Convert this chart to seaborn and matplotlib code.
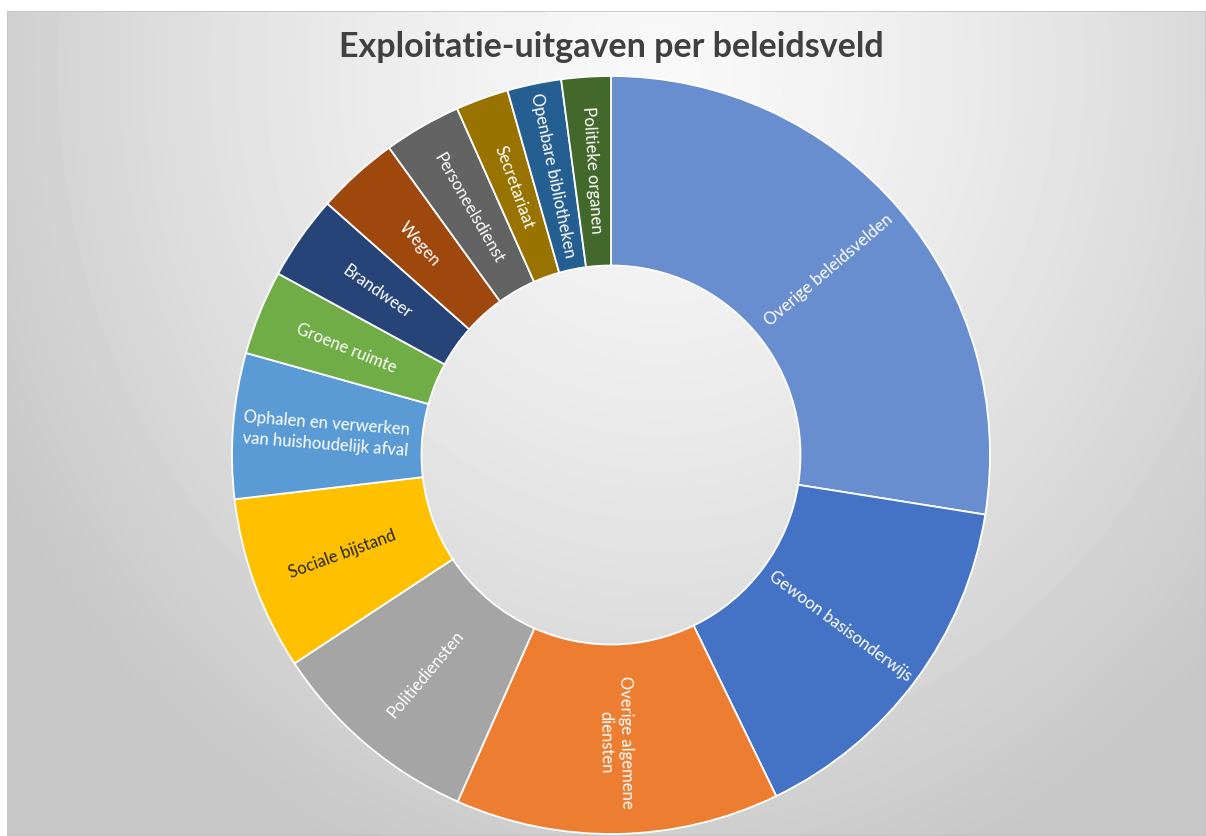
import numpy as np
import matplotlib
matplotlib.use("Agg")
import matplotlib.pyplot as plt
from matplotlib.patches import Rectangle
import seaborn as sns

# ---------------- data ----------------
title = "Exploitatie-uitgaven per beleidsveld"
categories = [
    "Overige beleidsvelden",
    "Gewoon basisonderwijs",
    "Overige algemene\ndiensten",
    "Politiediensten",
    "Sociale bijstand",
    "Ophalen en verwerken\nvan huishoudelijk afval",
    "Groene ruimte",
    "Brandweer",
    "Wegen",
    "Personeelsdienst",
    "Secretariaat",
    "Openbare bibliotheken",
    "Politieke organen",
]
shares = [27.5, 15.3, 13.8, 9.1, 7.4, 6.2, 3.6, 3.6, 3.5, 3.3, 2.25, 2.3, 2.1]
colors = ["#698ED0", "#4472C4", "#ED7D31", "#A5A5A5", "#FFC000", "#5B9BD5",
          "#70AD47", "#264478", "#9E480E", "#636363", "#997300", "#255E91",
          "#43682B"]
label_colors = ["white", "white", "white", "white", "#262626", "white",
                "white", "white", "white", "white", "white", "white", "white"]

# ---------------- style ----------------
sns.set_theme(style="white")
plt.rcParams['font.family'] = ['Lato', 'DejaVu Sans']
palette = sns.color_palette(colors)

W_PX, H_PX = 1206, 837
fig = plt.figure(figsize=(W_PX / 100, H_PX / 100), dpi=100)
fig.patch.set_facecolor("white")

# background gradient (chart area)
left_px, top_px = 7, 12
bw, bh = W_PX - left_px, H_PX - top_px
bg = fig.add_axes([left_px / W_PX, 0, bw / W_PX, bh / H_PX])
yy, xx = np.mgrid[0:bh, 0:bw]
cx, cy = 660 - left_px, 70 - top_px
d = np.sqrt(((xx - cx) / 720.0) ** 2 + ((yy - cy) / 820.0) ** 2)
shade = 0.972 - 0.18 * d ** 1.41
shade = np.clip(shade, 0.78, 1.0)
bg.imshow(shade, cmap="gray", vmin=0, vmax=1, aspect="auto",
          extent=(0, 1, 0, 1), interpolation="bilinear")
bg.add_patch(Rectangle((0, 0), 1, 1, transform=bg.transAxes, fill=False,
                       edgecolor="#c4c4c4", linewidth=1.2))
bg.set_xlim(0, 1)
bg.set_ylim(0, 1)
bg.axis("off")

# donut
cx_px, cy_px, r_px = 611, 456, 379
ax = fig.add_axes([(cx_px - r_px) / W_PX, (H_PX - cy_px - r_px) / H_PX,
                   2 * r_px / W_PX, 2 * r_px / H_PX])
ax.patch.set_alpha(0)
wedges, _ = ax.pie(shares, colors=palette, startangle=90, counterclock=False,
                   radius=1.0,
                   wedgeprops=dict(width=0.5, edgecolor="white", linewidth=1.3))
ax.set_xlim(-1, 1)
ax.set_ylim(-1, 1)
ax.axis("off")

for w, lab, col in zip(wedges, categories, label_colors):
    mid = 0.5 * (w.theta1 + w.theta2)
    th = np.deg2rad(mid)
    r = 0.755
    a = mid % 360
    if 90 < a <= 270:
        a -= 180
    elif a > 270:
        a -= 360
    ax.text(r * np.cos(th), r * np.sin(th), lab, rotation=a,
            rotation_mode="anchor", ha="center", va="center", color=col,
            fontsize=12, linespacing=1.35, multialignment="center")

fig.text(cx_px / W_PX + 0.0, 1 - 47 / H_PX, title, ha="center", va="center",
         fontsize=24.5, fontweight="bold", color="#404040")

fig.savefig("out.png", dpi=100, facecolor=fig.get_facecolor())
